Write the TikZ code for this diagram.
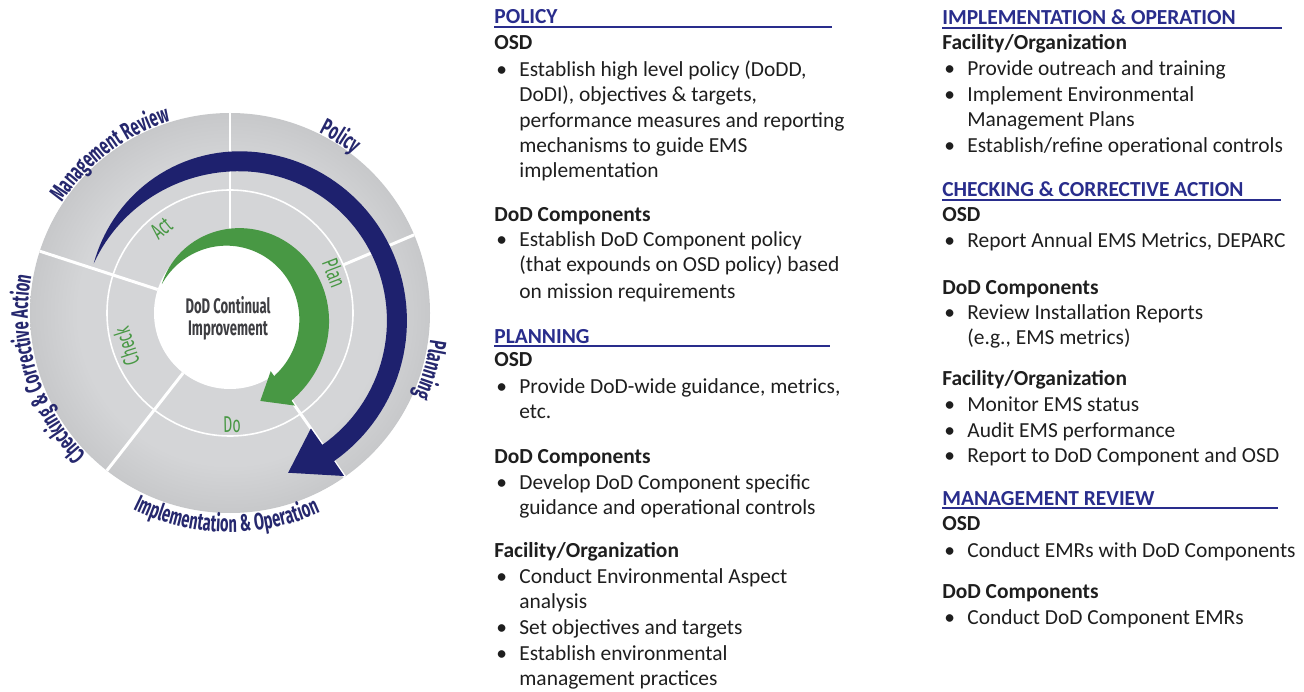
\documentclass[tikz,border=0pt]{standalone}
\usepackage{fontspec}
\setmainfont{Carlito}
\newfontfamily\wheelfont[FakeStretch=0.62]{Fira Sans}
\usetikzlibrary{decorations.text}

\definecolor{headblue}{RGB}{41,45,140}
\definecolor{arrowblue}{RGB}{30,33,110}
\definecolor{labelblue}{RGB}{38,40,110}
\definecolor{leafgreen}{RGB}{72,152,68}
\definecolor{bodytext}{RGB}{30,30,30}
\definecolor{coretext}{RGB}{62,62,66}
\definecolor{ringlight}{RGB}{212,213,215}
\definecolor{ringmid}{RGB}{186,187,189}
\definecolor{ringdark}{RGB}{148,149,152}

\pgfdeclareradialshading{wheelshade}{\pgfpoint{0bp}{0bp}}{%
  color(0bp)=(ringlight); color(19bp)=(ringlight); color(31bp)=(ringmid);
  color(50bp)=(ringdark); color(100bp)=(ringdark)}

\newcommand{\colfont}{\fontsize{12.2}{14}\selectfont}
\newcommand{\wheelsize}{\fontsize{13.5}{15}\selectfont}

\tikzset{
  head/.style={anchor=base west, inner sep=0pt, font=\colfont\bfseries, text=headblue},
  sub/.style={anchor=base west, inner sep=0pt, font=\colfont\bfseries, text=bodytext},
  txt/.style={anchor=base west, inner sep=0pt, font=\colfont, text=bodytext},
  dot/.style={txt},
  rule/.style={headblue, line width=1.1pt},
  divider/.style={white, line width=1.7pt},
  stage/.style={inner sep=0pt, font=\wheelfont\fontsize{13}{14}\selectfont, text=leafgreen},
  core/.style={inner sep=0pt, align=center, font=\wheelfont\bfseries\fontsize{12}{12.5}\selectfont, text=coretext},
  rimlabel/.style={decorate, decoration={text along path, text align=center,
      text color=labelblue, text={|\wheelfont\bfseries\wheelsize|#1}}},
}

\begin{document}
\begin{tikzpicture}[x=0.02cm, y=0.02cm]
\useasboundingbox (0,0) rectangle (1304,-692);

% Wheel
\begin{scope}[shift={(230,-313)}]
\shade[shading=wheelshade] (0,0) circle (200);
\fill[white] (0,0) circle (76);
\draw[white, line width=0.9pt] (0,0) circle (123);

\draw[divider] (90:76) -- (90:200);
\draw[divider] (162:76) -- (162:200);
\draw[divider] (-128:76) -- (-128:200);
\draw[divider] (-55:76) -- (-55:200);
\draw[divider] (23:123) -- (23:200);

% big arrow
\fill[arrowblue]
  plot[domain=0:1, samples=90, variable=\t]
    ({160-215*\t}:{145+26*(3*\t*\t-2*\t*\t*\t)+10*sin(min(90,257*\t))})
  -- (-55:199) -- (-70:170) -- (-55:141)
  -- plot[domain=1:0, samples=90, variable=\t]
    ({160-215*\t}:{145+26*(3*\t*\t-2*\t*\t*\t)-10*sin(min(90,257*\t))})
  -- cycle;

% small arrow
\fill[leafgreen]
  plot[domain=0:1, samples=90, variable=\t]
    ({157-212*\t}:{74+18*\t*\t+15*sin(min(90,110*\t))})
  -- (-55:113) -- (-71:93) -- (-55:71)
  -- plot[domain=1:0, samples=90, variable=\t]
    ({157-212*\t}:{74+18*\t*\t-15*sin(min(90,110*\t))})
  -- cycle;

\node[core] (core) at (-2,-5) {DoD Continual\\Improvement};

\node[stage, rotate=39]  (act)   at (129:109) {Act};
\node[stage, rotate=-69] (plan)  at (21:112)  {Plan};
\node[stage, rotate=1]   (do)    at (-89:112) {Do};
\node[stage, rotate=108] (check) at (198:109) {Check};

\path[rimlabel={Management Review}] (172:201) arc[start angle=172, end angle=82, radius=201];
\path[rimlabel={Policy}] (88:201) arc[start angle=88, end angle=28, radius=201];
\path[rimlabel={Planning}] (20:202) arc[start angle=20, end angle=-52, radius=202];
\path[rimlabel={Implementation {\&} Operation}] (-146:219) arc[start angle=-146, end angle=-36, radius=219];
\path[rimlabel={Checking {\&} Corrective Action}] (240:202) arc[start angle=240, end angle=154, radius=202];
\end{scope}

% Policy
\node[head] (policy-head) at (494,-24) {POLICY};
\draw[rule] ([yshift=-1.7pt]policy-head.base west) -- ++(338,0);
\node[sub] (policy-osd) at (494,-50) {OSD};
\node[dot] (policy-osd-dot) at (496,-77) {\textbullet};
\node[txt] (policy-osd-1) at (519,-77) {Establish high level policy (DoDD,};
\node[txt] (policy-osd-2) at (519,-102) {DoDI), objectives \& targets,};
\node[txt] (policy-osd-3) at (519,-128) {performance measures and reporting};
\node[txt] (policy-osd-4) at (519,-153) {mechanisms to guide EMS};
\node[txt] (policy-osd-5) at (519,-178) {implementation};
\node[sub] (policy-comp) at (494,-222) {DoD Components};
\node[dot] (policy-comp-dot) at (496,-247) {\textbullet};
\node[txt] (policy-comp-1) at (519,-247) {Establish DoD Component policy};
\node[txt] (policy-comp-2) at (519,-272) {(that expounds on OSD policy) based};
\node[txt] (policy-comp-3) at (519,-298) {on mission requirements};

% Planning
\node[head] (plan-head) at (494,-343) {PLANNING};
\draw[rule] ([yshift=-1.7pt]plan-head.base west) -- ++(336,0);
\node[sub] (plan-osd) at (494,-366) {OSD};
\node[dot] (plan-osd-dot) at (496,-393) {\textbullet};
\node[txt] (plan-osd-1) at (519,-393) {Provide DoD-wide guidance, metrics,};
\node[txt] (plan-osd-2) at (519,-418) {etc.};
\node[sub] (plan-comp) at (494,-463) {DoD Components};
\node[dot] (plan-comp-dot) at (496,-489) {\textbullet};
\node[txt] (plan-comp-1) at (519,-489) {Develop DoD Component specific};
\node[txt] (plan-comp-2) at (519,-514) {guidance and operational controls};
\node[sub] (plan-fac) at (494,-557) {Facility/Organization};
\node[dot] (plan-fac-dot1) at (496,-583) {\textbullet};
\node[txt] (plan-fac-1) at (519,-583) {Conduct Environmental Aspect};
\node[txt] (plan-fac-2) at (519,-608) {analysis};
\node[dot] (plan-fac-dot2) at (496,-634) {\textbullet};
\node[txt] (plan-fac-3) at (519,-634) {Set objectives and targets};
\node[dot] (plan-fac-dot3) at (496,-660) {\textbullet};
\node[txt] (plan-fac-4) at (519,-660) {Establish environmental};
\node[txt] (plan-fac-5) at (519,-685) {management practices};

% Implementation & operation
\node[head] (impl-head) at (942,-25) {IMPLEMENTATION \& OPERATION};
\draw[rule] ([yshift=-1.7pt]impl-head.base west) -- ++(340,0);
\node[sub] (impl-fac) at (942,-50) {Facility/Organization};
\node[dot] (impl-fac-dot1) at (944,-76) {\textbullet};
\node[txt] (impl-fac-1) at (967,-76) {Provide outreach and training};
\node[dot] (impl-fac-dot2) at (944,-102) {\textbullet};
\node[txt] (impl-fac-2) at (967,-102) {Implement Environmental};
\node[txt] (impl-fac-3) at (967,-127) {Management Plans};
\node[dot] (impl-fac-dot3) at (944,-153) {\textbullet};
\node[txt] (impl-fac-4) at (967,-153) {Establish/refine operational controls};

% Checking & corrective action
\node[head] (check-head) at (942,-197) {CHECKING \& CORRECTIVE ACTION};
\draw[rule] ([yshift=-1.7pt]check-head.base west) -- ++(339,0);
\node[sub] (check-osd) at (942,-222) {OSD};
\node[dot] (check-osd-dot) at (944,-248) {\textbullet};
\node[txt] (check-osd-1) at (967,-248) {Report Annual EMS Metrics, DEPARC};
\node[sub] (check-comp) at (942,-295) {DoD Components};
\node[dot] (check-comp-dot) at (944,-319) {\textbullet};
\node[txt] (check-comp-1) at (967,-319) {Review Installation Reports};
\node[txt] (check-comp-2) at (967,-344) {(e.g., EMS metrics)};
\node[sub] (check-fac) at (942,-385) {Facility/Organization};
\node[dot] (check-fac-dot1) at (944,-411) {\textbullet};
\node[txt] (check-fac-1) at (967,-411) {Monitor EMS status};
\node[dot] (check-fac-dot2) at (944,-437) {\textbullet};
\node[txt] (check-fac-2) at (967,-437) {Audit EMS performance};
\node[dot] (check-fac-dot3) at (944,-462) {\textbullet};
\node[txt] (check-fac-3) at (967,-462) {Report to DoD Component and OSD};

% Management review
\node[head] (review-head) at (942,-505) {MANAGEMENT REVIEW};
\draw[rule] ([yshift=-1.7pt]review-head.base west) -- ++(336,0);
\node[sub] (review-osd) at (942,-530) {OSD};
\node[dot] (review-osd-dot) at (944,-557) {\textbullet};
\node[txt] (review-osd-1) at (967,-557) {Conduct EMRs with DoD Components};
\node[sub] (review-comp) at (942,-598) {DoD Components};
\node[dot] (review-comp-dot) at (944,-624) {\textbullet};
\node[txt] (review-comp-1) at (967,-624) {Conduct DoD Component EMRs};

\end{tikzpicture}
\end{document}
